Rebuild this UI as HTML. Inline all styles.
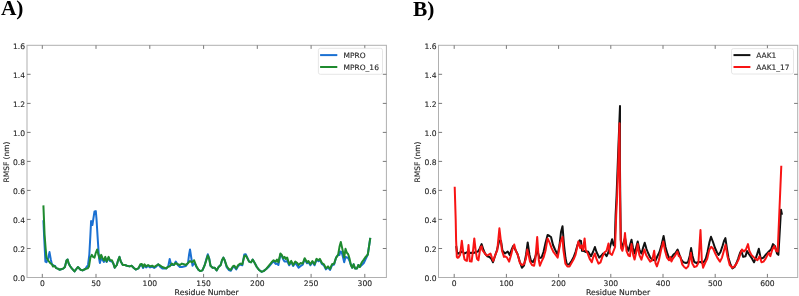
<!DOCTYPE html>
<html><head><meta charset="utf-8"><style>
html,body{margin:0;padding:0;background:#fff;}
svg{display:block;}
text{font-family:"DejaVu Sans","Liberation Sans",sans-serif;fill:#262626;stroke:#262626;stroke-width:0.12px;}
.al{stroke-width:0.15px;}
.pl{font-family:"Liberation Serif",serif;font-weight:bold;fill:#000;stroke:none;}
</style></head><body>
<svg width="799" height="296" viewBox="0 0 799 296">
<rect width="799" height="296" fill="#fff"/>
<text class="pl" transform="translate(0.9,15.3)" font-size="21.4">A)</text>
<text class="pl" transform="translate(412.9,15.5)" font-size="21.4">B)</text>
<polyline points="43.4,220.3 44.3,240.0 45.4,261.6 46.5,262.2 48.1,258.4 49.5,252.1 50.8,259.5 51.9,264.3 53.5,265.4 55.1,266.0 56.2,268.1 57.8,268.6 59.5,269.7 61.1,269.2 63.2,268.6 64.9,267.0 66.5,260.5 67.6,259.5 68.6,263.2 70.0,266.0 71.8,268.4 74.5,271.4 77.9,267.0 80.6,269.7 82.6,270.4 85.3,269.0 86.5,267.0 88.0,265.0 89.3,255.0 90.4,235.0 91.1,221.0 92.4,225.0 94.5,211.4 95.8,211.1 96.5,219.0 97.8,240.0 99.0,258.0 99.9,263.0 101.2,258.0 102.6,260.0 103.9,262.0 105.3,258.0 106.6,262.0 108.6,258.0 110.0,261.0 112.0,261.5 113.4,263.6 114.7,267.7 116.8,265.0 118.1,260.3 119.5,256.9 120.8,261.6 122.8,265.0 124.9,265.0 126.9,265.7 129.6,266.4 131.6,265.7 133.6,267.7 135.7,269.5 138.4,268.4 140.4,265.3 141.8,265.0 143.1,268.0 144.5,265.3 146.1,267.4 148.1,266.0 150.1,267.4 152.2,266.7 154.2,268.0 156.2,266.7 158.2,264.3 160.3,267.0 162.3,268.4 164.3,268.4 166.4,268.4 168.3,266.0 169.7,258.9 171.2,265.0 173.8,265.0 175.8,261.6 177.8,265.0 179.9,267.0 181.9,267.0 183.9,266.5 185.9,266.0 188.0,263.0 189.0,255.0 190.0,249.5 191.0,256.0 192.5,265.7 194.1,263.0 196.1,265.7 196.1,266.5 198.4,269.7 200.4,271.1 202.4,270.4 204.5,265.7 206.5,258.6 207.8,254.2 209.2,258.4 210.5,265.7 212.6,267.7 214.6,267.7 216.6,270.4 218.6,267.0 220.7,265.0 222.0,260.3 223.4,257.6 224.7,260.3 226.8,267.4 228.8,270.0 230.8,270.7 232.8,267.4 234.2,266.7 236.2,269.4 238.2,266.0 240.3,264.6 242.3,265.3 244.3,254.5 245.7,254.2 247.0,257.0 249.1,261.6 251.1,262.3 252.7,259.6 254.7,263.0 256.8,267.0 258.8,269.7 261.5,271.8 263.5,271.1 266.2,269.0 268.9,266.7 271.6,263.3 273.6,261.3 275.7,264.0 277.0,263.5 278.4,265.0 280.4,254.5 281.8,255.9 283.1,259.2 284.5,261.6 285.8,261.6 287.2,261.0 289.2,265.3 291.2,261.9 293.2,266.0 295.3,262.6 298.6,267.7 300.7,266.0 302.7,264.6 304.7,259.2 307.0,263.3 308.4,262.0 310.4,265.3 312.4,262.0 314.5,265.3 316.5,259.9 318.5,261.3 319.9,259.9 321.9,264.0 323.9,265.3 325.9,269.4 328.0,267.4 330.0,270.0 332.0,265.3 334.1,264.6 336.1,257.6 338.1,254.9 339.5,255.0 340.1,251.5 341.3,252.0 342.2,254.0 344.2,262.3 345.5,257.0 346.9,257.5 348.2,258.0 349.6,261.0 350.9,265.0 352.3,267.7 353.6,264.3 355.0,268.4 357.0,268.4 358.4,265.0 359.7,267.0 361.8,265.0 363.8,263.0 365.2,260.0 367.8,254.5 370.3,237.8" fill="none" stroke="#1a70d2" stroke-width="2.0" stroke-linejoin="round" stroke-linecap="butt"/>
<polyline points="43.4,205.4 44.6,235.0 45.6,248.0 46.5,257.8 47.6,259.5 48.6,261.0 50.3,263.2 51.9,264.3 53.0,266.5 54.6,266.0 56.2,268.1 57.8,268.6 59.5,269.7 61.1,269.2 63.2,268.6 64.9,267.0 66.5,260.5 67.6,259.5 68.6,263.2 70.0,266.0 71.8,268.4 74.5,271.4 77.9,267.0 80.6,269.7 82.6,270.4 85.3,269.0 87.7,268.4 89.0,266.4 90.4,257.6 91.8,254.9 93.1,256.9 94.5,257.6 95.8,252.8 97.2,249.5 98.5,254.9 99.9,258.9 101.2,254.9 102.6,258.2 103.9,260.3 105.3,256.9 106.6,261.6 108.6,256.9 110.0,260.3 112.0,260.3 113.4,263.6 114.7,267.7 116.8,265.0 118.1,260.3 119.5,256.9 120.8,261.6 122.8,265.0 124.9,265.0 126.9,265.7 129.6,266.4 131.6,265.7 133.6,267.7 135.7,269.5 138.4,268.4 140.4,264.3 141.8,264.0 143.1,267.0 144.5,264.3 146.1,266.4 148.1,265.0 150.1,266.4 152.2,265.7 154.2,267.0 156.2,265.7 158.2,264.3 160.3,265.7 162.3,267.0 164.3,267.7 166.4,268.4 167.7,267.0 169.7,266.4 171.8,263.6 173.8,265.0 175.8,263.0 177.8,264.3 179.9,265.0 181.9,263.6 183.9,264.3 185.9,265.0 188.0,263.0 190.0,261.0 192.0,262.3 194.1,260.3 196.1,265.7 198.4,269.7 200.4,271.1 202.4,270.4 204.5,265.7 206.5,259.6 207.8,255.5 209.2,258.9 210.5,265.7 212.6,267.7 214.6,267.7 216.6,270.4 218.6,267.0 220.7,265.0 222.0,260.3 223.4,257.6 224.7,260.3 226.8,266.4 228.8,269.0 230.8,269.7 232.8,266.4 234.2,265.7 236.2,268.4 238.2,265.0 240.3,263.6 242.3,264.3 244.3,256.2 245.7,255.5 247.0,257.6 249.1,261.6 251.1,262.3 252.7,259.6 254.7,263.0 256.8,267.0 258.8,269.7 261.5,271.8 263.5,271.1 266.2,269.0 268.9,265.7 271.6,262.3 273.6,260.3 275.7,261.6 277.0,259.6 278.4,262.3 280.4,253.5 281.8,254.9 283.1,258.2 284.5,256.9 285.8,258.9 287.2,257.6 289.2,264.3 291.2,260.9 293.2,265.0 295.3,261.6 297.3,263.0 298.6,265.0 300.7,263.0 302.7,263.6 304.7,258.2 307.0,262.3 308.4,261.0 310.4,264.3 312.4,261.0 314.5,264.3 316.5,258.9 318.5,260.3 319.9,258.9 321.9,263.0 323.9,264.3 325.9,268.4 328.0,266.4 330.0,269.0 332.0,264.3 334.1,263.6 336.1,257.6 338.1,254.9 339.5,246.8 340.8,242.0 342.2,248.1 344.2,257.6 345.5,248.8 346.9,252.8 348.2,254.2 349.6,258.9 350.9,265.0 352.3,267.7 353.6,264.3 355.0,268.4 357.0,268.4 358.4,265.0 359.7,267.0 361.8,262.3 363.8,259.6 365.2,257.5 367.8,254.5 370.3,237.8" fill="none" stroke="#1e8a2e" stroke-width="2.0" stroke-linejoin="round" stroke-linecap="butt"/>
<rect x="27.0" y="45.3" width="359.4" height="232.2" fill="none" stroke="#b0b0b0" stroke-width="1"/>
<line x1="42.3" y1="277.5" x2="42.3" y2="273.9" stroke="#6a6a6a" stroke-width="0.9"/>
<line x1="42.3" y1="45.3" x2="42.3" y2="48.9" stroke="#6a6a6a" stroke-width="0.9"/>
<line x1="96.0" y1="277.5" x2="96.0" y2="273.9" stroke="#6a6a6a" stroke-width="0.9"/>
<line x1="96.0" y1="45.3" x2="96.0" y2="48.9" stroke="#6a6a6a" stroke-width="0.9"/>
<line x1="149.8" y1="277.5" x2="149.8" y2="273.9" stroke="#6a6a6a" stroke-width="0.9"/>
<line x1="149.8" y1="45.3" x2="149.8" y2="48.9" stroke="#6a6a6a" stroke-width="0.9"/>
<line x1="203.6" y1="277.5" x2="203.6" y2="273.9" stroke="#6a6a6a" stroke-width="0.9"/>
<line x1="203.6" y1="45.3" x2="203.6" y2="48.9" stroke="#6a6a6a" stroke-width="0.9"/>
<line x1="257.3" y1="277.5" x2="257.3" y2="273.9" stroke="#6a6a6a" stroke-width="0.9"/>
<line x1="257.3" y1="45.3" x2="257.3" y2="48.9" stroke="#6a6a6a" stroke-width="0.9"/>
<line x1="311.1" y1="277.5" x2="311.1" y2="273.9" stroke="#6a6a6a" stroke-width="0.9"/>
<line x1="311.1" y1="45.3" x2="311.1" y2="48.9" stroke="#6a6a6a" stroke-width="0.9"/>
<line x1="364.8" y1="277.5" x2="364.8" y2="273.9" stroke="#6a6a6a" stroke-width="0.9"/>
<line x1="364.8" y1="45.3" x2="364.8" y2="48.9" stroke="#6a6a6a" stroke-width="0.9"/>
<line x1="27.0" y1="248.5" x2="30.6" y2="248.5" stroke="#6a6a6a" stroke-width="0.9"/>
<line x1="386.4" y1="248.5" x2="382.79999999999995" y2="248.5" stroke="#6a6a6a" stroke-width="0.9"/>
<line x1="27.0" y1="219.4" x2="30.6" y2="219.4" stroke="#6a6a6a" stroke-width="0.9"/>
<line x1="386.4" y1="219.4" x2="382.79999999999995" y2="219.4" stroke="#6a6a6a" stroke-width="0.9"/>
<line x1="27.0" y1="190.4" x2="30.6" y2="190.4" stroke="#6a6a6a" stroke-width="0.9"/>
<line x1="386.4" y1="190.4" x2="382.79999999999995" y2="190.4" stroke="#6a6a6a" stroke-width="0.9"/>
<line x1="27.0" y1="161.4" x2="30.6" y2="161.4" stroke="#6a6a6a" stroke-width="0.9"/>
<line x1="386.4" y1="161.4" x2="382.79999999999995" y2="161.4" stroke="#6a6a6a" stroke-width="0.9"/>
<line x1="27.0" y1="132.4" x2="30.6" y2="132.4" stroke="#6a6a6a" stroke-width="0.9"/>
<line x1="386.4" y1="132.4" x2="382.79999999999995" y2="132.4" stroke="#6a6a6a" stroke-width="0.9"/>
<line x1="27.0" y1="103.4" x2="30.6" y2="103.4" stroke="#6a6a6a" stroke-width="0.9"/>
<line x1="386.4" y1="103.4" x2="382.79999999999995" y2="103.4" stroke="#6a6a6a" stroke-width="0.9"/>
<line x1="27.0" y1="74.3" x2="30.6" y2="74.3" stroke="#6a6a6a" stroke-width="0.9"/>
<line x1="386.4" y1="74.3" x2="382.79999999999995" y2="74.3" stroke="#6a6a6a" stroke-width="0.9"/>
<text x="25.0" y="281.1" text-anchor="end" font-size="7.6">0.0</text>
<text x="25.0" y="252.1" text-anchor="end" font-size="7.6">0.2</text>
<text x="25.0" y="223.1" text-anchor="end" font-size="7.6">0.4</text>
<text x="25.0" y="194.1" text-anchor="end" font-size="7.6">0.6</text>
<text x="25.0" y="165.0" text-anchor="end" font-size="7.6">0.8</text>
<text x="25.0" y="136.0" text-anchor="end" font-size="7.6">1.0</text>
<text x="25.0" y="107.0" text-anchor="end" font-size="7.6">1.2</text>
<text x="25.0" y="78.0" text-anchor="end" font-size="7.6">1.4</text>
<text x="25.0" y="48.9" text-anchor="end" font-size="7.6">1.6</text>
<text x="42.3" y="285.8" text-anchor="middle" font-size="7.6">0</text>
<text x="96.0" y="285.8" text-anchor="middle" font-size="7.6">50</text>
<text x="149.8" y="285.8" text-anchor="middle" font-size="7.6">100</text>
<text x="203.6" y="285.8" text-anchor="middle" font-size="7.6">150</text>
<text x="257.3" y="285.8" text-anchor="middle" font-size="7.6">200</text>
<text x="311.1" y="285.8" text-anchor="middle" font-size="7.6">250</text>
<text x="364.8" y="285.8" text-anchor="middle" font-size="7.6">300</text>
<text x="206.7" y="295.2" text-anchor="middle" font-size="7.75" class="al">Residue Number</text>
<text transform="translate(8.7,162.0) rotate(-90)" text-anchor="middle" font-size="7.5" class="al">RMSF (nm)</text>
<rect x="318.4" y="48.3" width="64.1" height="26.0" rx="2" fill="#fff" fill-opacity="0.8" stroke="#e0e0e0" stroke-width="0.8"/>
<line x1="320.1" y1="55.1" x2="337.3" y2="55.1" stroke="#1a70d2" stroke-width="2.0"/>
<text x="343.5" y="57.8" font-size="7.5">MPRO</text>
<line x1="320.1" y1="67.0" x2="337.3" y2="67.0" stroke="#1e8a2e" stroke-width="2.0"/>
<text x="343.5" y="69.7" font-size="7.5">MPRO_16</text>
<polyline points="456.2,246.0 457.0,252.0 458.1,253.7 460.1,252.2 461.2,252.2 462.5,251.0 464.2,253.7 467.3,252.2 469.0,253.0 471.3,252.7 473.5,253.0 476.0,252.0 478.0,251.5 479.5,249.0 481.6,244.1 483.5,250.0 485.0,253.5 487.2,256.2 489.5,257.0 491.5,259.0 493.0,262.3 495.0,256.0 497.0,250.0 499.3,240.5 501.0,241.0 502.5,250.8 505.0,253.5 507.7,251.5 509.7,254.9 511.5,250.0 513.1,246.1 515.0,249.0 517.5,254.0 519.9,262.0 521.9,267.7 524.0,265.5 526.0,255.0 527.7,242.4 529.5,255.0 531.0,261.0 533.0,262.0 535.0,258.0 537.2,250.0 539.5,258.0 541.5,257.6 543.5,252.0 545.5,243.0 547.6,235.0 549.5,236.0 551.0,237.0 553.0,245.0 555.0,249.5 557.7,254.9 559.5,245.0 561.0,232.0 562.5,226.2 564.0,245.0 565.5,258.0 566.8,264.3 569.0,264.5 571.5,261.0 573.5,257.6 575.5,252.0 577.5,245.0 579.6,240.4 581.0,241.0 582.0,250.8 584.0,251.0 586.0,252.0 588.0,251.5 591.0,256.2 593.0,252.0 594.9,247.0 596.5,252.0 599.2,257.6 601.0,256.0 603.0,253.5 605.0,254.0 606.6,256.2 608.5,252.0 610.0,247.0 612.1,239.3 613.5,245.0 614.7,246.0 615.6,215.0 616.6,195.0 617.9,160.0 620.0,106.0 619.9,160.0 620.3,200.0 620.8,240.0 621.3,245.0 622.4,246.8 624.0,241.0 625.0,238.0 626.5,246.0 628.5,250.8 630.0,245.0 631.5,239.7 633.0,248.0 634.6,253.5 636.5,246.0 637.7,241.4 639.5,250.0 641.5,253.5 643.0,248.0 644.7,242.7 646.5,249.0 648.1,253.0 650.0,257.0 651.5,259.0 653.5,260.0 655.5,260.5 657.5,256.0 659.5,252.0 661.5,245.0 663.6,236.0 665.5,247.0 667.5,254.0 669.5,258.9 671.5,257.5 673.5,254.5 675.5,253.0 677.6,249.5 679.5,254.9 681.5,260.0 683.5,262.3 686.0,263.0 688.0,262.3 689.7,256.0 691.1,248.1 692.5,256.0 694.3,262.0 696.5,263.0 698.5,262.0 700.5,262.0 702.5,263.0 704.5,261.0 705.8,258.5 707.5,252.0 709.5,242.0 711.0,236.8 713.0,242.0 715.0,248.0 717.0,252.5 718.6,254.9 720.5,252.0 722.5,246.0 724.0,241.0 725.4,238.1 727.0,249.0 728.5,258.0 730.5,264.5 732.4,268.4 734.5,267.0 736.5,263.0 738.0,259.0 740.0,253.0 741.2,250.8 743.2,256.9 745.5,256.2 747.0,251.0 748.5,253.5 751.4,257.6 754.0,262.3 756.5,256.2 758.8,248.8 760.8,258.9 763.5,257.6 765.5,255.0 767.0,253.5 768.9,251.5 771.0,249.5 773.0,244.1 775.0,246.1 777.0,253.5 778.4,254.9 781.0,209.7 782.0,214.8" fill="none" stroke="#111111" stroke-width="2.0" stroke-linejoin="round" stroke-linecap="butt"/>
<polyline points="454.7,186.8 455.7,220.0 456.1,240.0 456.8,256.9 457.6,257.8 458.4,257.6 460.1,254.9 461.8,240.8 463.5,254.2 464.5,259.3 465.5,260.3 466.9,260.9 468.5,245.1 469.8,261.3 471.6,261.6 473.0,250.8 474.3,238.4 475.7,250.8 477.0,258.9 478.4,260.3 480.4,247.4 481.6,246.3 482.4,250.1 484.5,252.8 486.5,255.5 488.5,254.9 490.5,253.5 491.9,257.6 493.2,260.9 495.3,254.9 497.3,250.1 499.4,228.3 502.0,250.8 504.0,256.9 505.0,256.2 507.0,257.6 509.1,261.6 511.1,254.9 512.4,249.5 514.2,244.5 515.8,250.8 517.8,254.9 519.9,263.0 521.9,265.0 523.9,264.3 525.9,258.9 527.3,249.5 528.6,254.9 530.0,261.6 532.0,265.0 534.1,265.7 535.4,258.9 537.2,237.0 538.8,260.3 539.9,265.7 541.5,261.6 543.5,257.6 545.5,250.8 547.6,238.4 549.6,242.7 551.6,248.1 553.6,252.2 555.7,254.9 557.7,257.6 559.1,249.5 560.5,242.0 562.5,236.9 563.4,250.0 564.5,257.6 565.4,263.6 567.4,266.4 569.5,266.4 571.5,263.0 573.5,259.6 575.5,254.9 577.6,245.4 578.3,241.6 580.3,248.1 581.6,245.4 583.0,250.1 584.6,238.4 585.7,250.1 587.7,253.5 589.7,258.9 591.8,262.3 593.1,257.6 594.9,253.5 596.5,258.9 598.5,263.6 600.5,262.3 602.6,256.2 604.6,252.2 606.6,250.8 608.5,243.4 610.0,253.5 612.0,254.9 614.1,249.5 615.1,246.8 616.2,215.0 617.2,195.0 618.4,160.0 619.5,123.2 619.7,160.0 620.1,200.0 620.7,240.0 621.1,248.1 622.4,250.8 623.8,244.7 625.0,233.0 626.5,250.8 628.5,255.5 629.9,256.2 631.5,244.1 633.2,254.9 634.6,259.6 636.6,250.8 637.7,244.1 639.3,254.9 641.4,259.6 643.4,252.8 644.5,249.5 646.1,254.9 648.1,258.2 650.1,261.6 652.2,260.3 654.2,250.8 655.5,263.0 656.9,266.4 658.9,260.3 660.9,250.8 663.3,241.4 665.0,250.8 667.0,257.6 669.1,260.3 670.3,257.0 671.4,261.6 672.7,258.9 674.7,256.2 677.4,251.5 678.8,256.2 680.1,256.2 682.2,264.3 684.2,267.0 686.2,268.4 688.2,266.4 689.6,260.3 690.9,252.8 692.3,263.6 694.3,267.0 696.4,266.4 698.4,263.0 700.5,230.0 701.8,260.3 703.1,267.7 705.1,263.0 707.2,258.9 709.2,250.1 711.2,246.8 713.2,248.8 715.3,253.5 717.3,257.6 720.0,261.6 722.0,257.6 724.1,250.1 725.5,244.7 727.4,256.0 729.7,265.0 732.4,267.7 734.5,266.4 736.5,263.6 738.5,259.6 740.5,253.5 741.9,249.5 743.9,251.5 745.9,249.5 748.0,244.1 749.3,250.8 751.4,254.9 753.4,256.9 755.4,258.9 757.4,260.3 759.5,256.2 761.5,262.3 763.5,261.6 765.5,258.9 767.6,254.9 768.9,252.8 770.3,256.2 772.3,249.5 774.3,246.1 776.1,250.8 777.7,251.5 781.3,165.8" fill="none" stroke="#f81414" stroke-width="2.0" stroke-linejoin="round" stroke-linecap="butt"/>
<rect x="438.5" y="45.3" width="359.2" height="232.2" fill="none" stroke="#b0b0b0" stroke-width="1"/>
<line x1="454.2" y1="277.5" x2="454.2" y2="273.9" stroke="#6a6a6a" stroke-width="0.9"/>
<line x1="454.2" y1="45.3" x2="454.2" y2="48.9" stroke="#6a6a6a" stroke-width="0.9"/>
<line x1="506.4" y1="277.5" x2="506.4" y2="273.9" stroke="#6a6a6a" stroke-width="0.9"/>
<line x1="506.4" y1="45.3" x2="506.4" y2="48.9" stroke="#6a6a6a" stroke-width="0.9"/>
<line x1="558.6" y1="277.5" x2="558.6" y2="273.9" stroke="#6a6a6a" stroke-width="0.9"/>
<line x1="558.6" y1="45.3" x2="558.6" y2="48.9" stroke="#6a6a6a" stroke-width="0.9"/>
<line x1="610.8" y1="277.5" x2="610.8" y2="273.9" stroke="#6a6a6a" stroke-width="0.9"/>
<line x1="610.8" y1="45.3" x2="610.8" y2="48.9" stroke="#6a6a6a" stroke-width="0.9"/>
<line x1="663.0" y1="277.5" x2="663.0" y2="273.9" stroke="#6a6a6a" stroke-width="0.9"/>
<line x1="663.0" y1="45.3" x2="663.0" y2="48.9" stroke="#6a6a6a" stroke-width="0.9"/>
<line x1="715.2" y1="277.5" x2="715.2" y2="273.9" stroke="#6a6a6a" stroke-width="0.9"/>
<line x1="715.2" y1="45.3" x2="715.2" y2="48.9" stroke="#6a6a6a" stroke-width="0.9"/>
<line x1="767.4" y1="277.5" x2="767.4" y2="273.9" stroke="#6a6a6a" stroke-width="0.9"/>
<line x1="767.4" y1="45.3" x2="767.4" y2="48.9" stroke="#6a6a6a" stroke-width="0.9"/>
<line x1="438.5" y1="248.5" x2="442.1" y2="248.5" stroke="#6a6a6a" stroke-width="0.9"/>
<line x1="797.7" y1="248.5" x2="794.1" y2="248.5" stroke="#6a6a6a" stroke-width="0.9"/>
<line x1="438.5" y1="219.4" x2="442.1" y2="219.4" stroke="#6a6a6a" stroke-width="0.9"/>
<line x1="797.7" y1="219.4" x2="794.1" y2="219.4" stroke="#6a6a6a" stroke-width="0.9"/>
<line x1="438.5" y1="190.4" x2="442.1" y2="190.4" stroke="#6a6a6a" stroke-width="0.9"/>
<line x1="797.7" y1="190.4" x2="794.1" y2="190.4" stroke="#6a6a6a" stroke-width="0.9"/>
<line x1="438.5" y1="161.4" x2="442.1" y2="161.4" stroke="#6a6a6a" stroke-width="0.9"/>
<line x1="797.7" y1="161.4" x2="794.1" y2="161.4" stroke="#6a6a6a" stroke-width="0.9"/>
<line x1="438.5" y1="132.4" x2="442.1" y2="132.4" stroke="#6a6a6a" stroke-width="0.9"/>
<line x1="797.7" y1="132.4" x2="794.1" y2="132.4" stroke="#6a6a6a" stroke-width="0.9"/>
<line x1="438.5" y1="103.4" x2="442.1" y2="103.4" stroke="#6a6a6a" stroke-width="0.9"/>
<line x1="797.7" y1="103.4" x2="794.1" y2="103.4" stroke="#6a6a6a" stroke-width="0.9"/>
<line x1="438.5" y1="74.3" x2="442.1" y2="74.3" stroke="#6a6a6a" stroke-width="0.9"/>
<line x1="797.7" y1="74.3" x2="794.1" y2="74.3" stroke="#6a6a6a" stroke-width="0.9"/>
<text x="436.5" y="281.1" text-anchor="end" font-size="7.6">0.0</text>
<text x="436.5" y="252.1" text-anchor="end" font-size="7.6">0.2</text>
<text x="436.5" y="223.1" text-anchor="end" font-size="7.6">0.4</text>
<text x="436.5" y="194.1" text-anchor="end" font-size="7.6">0.6</text>
<text x="436.5" y="165.0" text-anchor="end" font-size="7.6">0.8</text>
<text x="436.5" y="136.0" text-anchor="end" font-size="7.6">1.0</text>
<text x="436.5" y="107.0" text-anchor="end" font-size="7.6">1.2</text>
<text x="436.5" y="78.0" text-anchor="end" font-size="7.6">1.4</text>
<text x="436.5" y="48.9" text-anchor="end" font-size="7.6">1.6</text>
<text x="454.2" y="285.8" text-anchor="middle" font-size="7.6">0</text>
<text x="506.4" y="285.8" text-anchor="middle" font-size="7.6">100</text>
<text x="558.6" y="285.8" text-anchor="middle" font-size="7.6">200</text>
<text x="610.8" y="285.8" text-anchor="middle" font-size="7.6">300</text>
<text x="663.0" y="285.8" text-anchor="middle" font-size="7.6">400</text>
<text x="715.2" y="285.8" text-anchor="middle" font-size="7.6">500</text>
<text x="767.4" y="285.8" text-anchor="middle" font-size="7.6">600</text>
<text x="618.1" y="295.2" text-anchor="middle" font-size="7.75" class="al">Residue Number</text>
<text transform="translate(420.2,162.0) rotate(-90)" text-anchor="middle" font-size="7.5" class="al">RMSF (nm)</text>
<rect x="731.5" y="48.6" width="62.0" height="25.4" rx="2" fill="#fff" fill-opacity="0.8" stroke="#e0e0e0" stroke-width="0.8"/>
<line x1="733.5" y1="55.1" x2="750.4" y2="55.1" stroke="#111111" stroke-width="2.0"/>
<text x="756.2" y="57.8" font-size="7.5">AAK1</text>
<line x1="733.5" y1="67.0" x2="750.4" y2="67.0" stroke="#f81414" stroke-width="2.0"/>
<text x="756.2" y="69.7" font-size="7.5">AAK1_17</text>
</svg>
</body></html>
